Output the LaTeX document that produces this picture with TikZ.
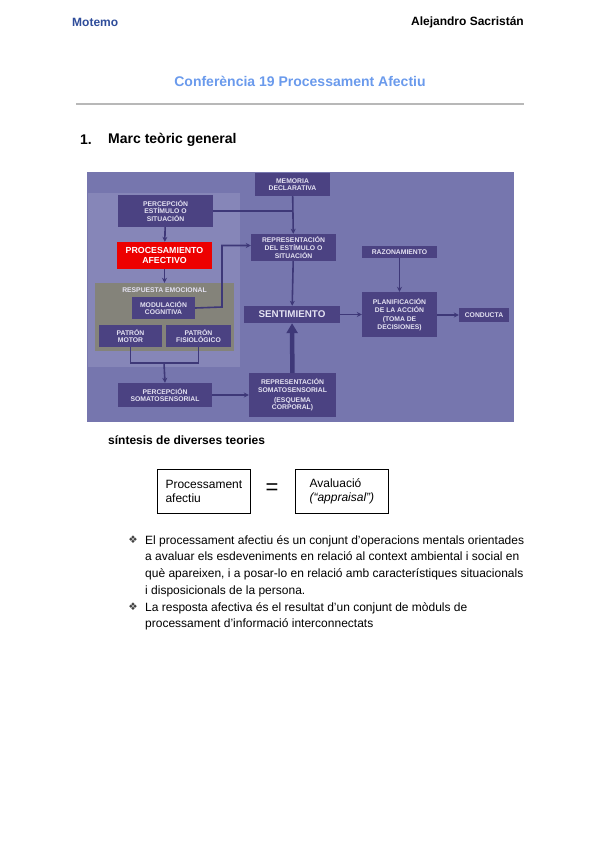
\documentclass[tikz,border=0pt]{standalone}
\usepackage{fontspec}
\setmainfont{Liberation Sans}
\newfontfamily\symfont{DejaVu Sans}
\usepackage{tikz}
\usetikzlibrary{arrows.meta,positioning,calc}

\definecolor{panelbg}{HTML}{7676AE}
\definecolor{groupbg}{HTML}{8686B8}
\definecolor{boxbg}{HTML}{4B4282}
\definecolor{respbg}{HTML}{84837A}
\definecolor{linecol}{HTML}{3E3878}
\definecolor{boxtext}{HTML}{E4E2F2}
\definecolor{headblue}{HTML}{2E4C9A}
\definecolor{titleblue}{HTML}{6A9AEC}

\begin{document}
\begin{tikzpicture}[x=1pt, y=-1pt,
    pbox/.style={fill=boxbg, draw=none, inner sep=1pt, align=center, text=boxtext,
                 font=\fontsize{6.8}{7.6}\selectfont\bfseries},
    hot/.style={pbox, fill=red!93!black, text=white, font=\fontsize{8.8}{10.6}\selectfont\bfseries},
    plainbox/.style={draw, thick, inner sep=4pt, align=left, anchor=north west,
                     font=\fontsize{12}{14}\selectfont},
    arr/.style={-{Stealth[length=5pt,width=5pt]}, draw=linecol, line width=1.6pt},
    conn/.style={draw=linecol, line width=1.6pt},
    bigarr/.style={-{Triangle[length=10pt,width=11pt]}, draw=linecol, line width=4.5pt}
]
\useasboundingbox (0,0) rectangle (600,848);

% cabecera
\node[anchor=west, inner sep=0pt, text=headblue, font=\fontsize{12}{14}\selectfont\bfseries] (hleft) at (72,22) {Motemo};
\node[anchor=east, inner sep=0pt, font=\fontsize{12}{14}\selectfont\bfseries] (hright) at (524,22) {Alejandro Sacristán};
\node[text=titleblue, font=\fontsize{14}{16}\selectfont\bfseries] (title) at (300,81) {Conferència 19 Processament Afectiu};
\draw[black!28, line width=1.8pt] (76,104) -- (524,104);
\node[anchor=west, inner sep=0pt, font=\fontsize{14}{16}\selectfont\bfseries] (secnum) at (80,140) {1.};
\node[anchor=west, inner sep=0pt, font=\fontsize{14}{16}\selectfont\bfseries] (sectitle) at (108,140) {Marc teòric general};

% esquema
\fill[panelbg] (87,172) rectangle (514,422);
\fill[groupbg] (88,193) rectangle (240,367);
\fill[respbg] (95,283) rectangle (234,351);
\node[font=\fontsize{6.8}{7.6}\selectfont\bfseries, text=boxtext] (resplab) at (164.5,290) {RESPUESTA EMOCIONAL};
\node[inner sep=0pt, minimum width=139pt, minimum height=68pt] (resp) at (164.5,317) {};

\node[pbox, minimum width=95pt, minimum height=32pt] (perc) at (165.5,211) {PERCEPCIÓN\\ESTÍMULO O\\SITUACIÓN};
\node[hot, minimum width=95pt, minimum height=27pt] (proc) at (164.5,255.5) {PROCESAMIENTO\\AFECTIVO};
\node[pbox, minimum width=63pt, minimum height=22pt] (modul) at (163.5,308) {MODULACIÓN\\COGNITIVA};
\node[pbox, minimum width=63pt, minimum height=22pt] (motor) at (130.5,336) {PATRÓN\\MOTOR};
\node[pbox, minimum width=65pt, minimum height=22pt] (fisio) at (198.5,336) {PATRÓN\\FISIOLÓGICO};
\node[pbox, minimum width=94pt, minimum height=24pt] (psom) at (165,395) {PERCEPCIÓN\\SOMATOSENSORIAL};
\node[pbox, minimum width=75pt, minimum height=23pt] (mem) at (292.5,184.5) {MEMORIA\\DECLARATIVA};
\node[pbox, minimum width=85pt, minimum height=27pt] (rep) at (293.5,247.5) {REPRESENTACIÓN\\DEL ESTÍMULO O\\SITUACIÓN};
\node[pbox, minimum width=96pt, minimum height=17pt, font=\fontsize{9.8}{11}\selectfont\bfseries] (sent) at (292,314.5) {SENTIMIENTO};
\node[pbox, minimum width=87pt, minimum height=44pt] (rsom) at (292.5,395) {REPRESENTACIÓN\\SOMATOSENSORIAL\\[2pt](ESQUEMA\\CORPORAL)};
\node[pbox, minimum width=75pt, minimum height=12pt] (raz) at (399.5,252) {RAZONAMIENTO};
\node[pbox, minimum width=75pt, minimum height=45pt] (plan) at (399.5,314.5) {PLANIFICACIÓN\\DE LA ACCIÓN\\[2pt](TOMA DE\\DECISIONES)};
\node[pbox, minimum width=50pt, minimum height=14pt] (cond) at (484,315) {CONDUCTA};

\coordinate (mbend) at (222,307);
\coordinate (pjoin) at (164,363);

\draw[conn] (perc.east) -- (perc.east -| mem.south);
\draw[arr] (mem) -- (rep);
\draw[arr] (perc) -- (proc);
\draw[arr] (proc) -- (resp.north);
\draw[arr] (modul.east) -- (mbend) |- ([yshift=2pt]rep.west);
\draw[arr] (rep) -- (sent);
\draw[conn] (motor.south) |- (pjoin);
\draw[conn] (fisio.south) |- (pjoin);
\draw[arr] (pjoin) -- (psom.north);
\draw[arr] (psom) -- (psom -| rsom.west);
\draw[bigarr] (rsom) -- (sent);
\draw[arr] (sent) -- (sent -| plan.west);
\draw[arr] (raz) -- (plan);
\draw[arr] (plan.east |- cond) -- (cond);

% sintesis
\node[anchor=west, inner sep=0pt, font=\fontsize{12}{14}\selectfont\bfseries] (sint) at (108,440) {síntesis de diverses teories};
\node[plainbox, minimum width=93pt, minimum height=44pt] (pa) at (157,469) {Processament\\afectiu};
\node[plainbox, minimum width=93pt, minimum height=44pt] (av) at (295,469) {Avaluació\\\textit{(“appraisal”)}};
\node[font=\fontsize{22}{22}\selectfont] (eq) at (272,489) {=};

% punts
\node[anchor=north west, align=left, inner sep=0pt, font=\fontsize{12}{16.8}\selectfont] (b1) at (145,535)
  {El processament afectiu és un conjunt d'operacions mentals orientades\\
   a avaluar els esdeveniments en relació al context ambiental i social en\\
   què apareixen, i a posar-lo en relació amb característiques situacionals\\
   i disposicionals de la persona.};
\node[anchor=north west, align=left, inner sep=0pt, font=\fontsize{12}{16.8}\selectfont] (b2) at (145,602)
  {La resposta afectiva és el resultat d'un conjunt de mòduls de\\
   processament d'informació interconnectats};
\node[font=\symfont\fontsize{10.5}{12}\selectfont, text=black!75] (m1) at (133,540) {❖};
\node[font=\symfont\fontsize{10.5}{12}\selectfont, text=black!75] (m2) at (133,607) {❖};
\end{tikzpicture}
\end{document}
